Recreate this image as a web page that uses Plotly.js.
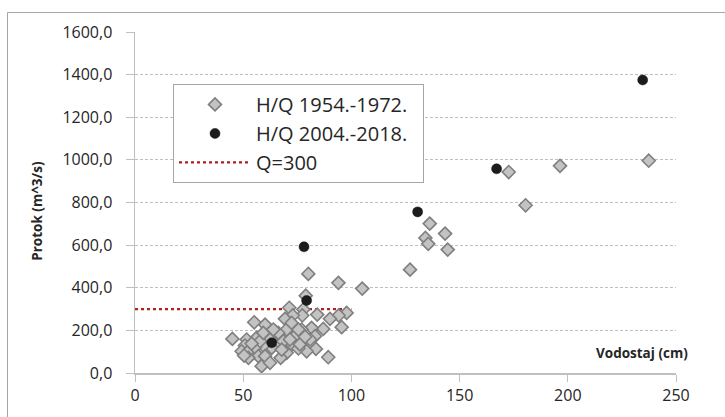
<!DOCTYPE html>
<html>
<head>
<meta charset="utf-8">
<script src="https://cdn.plot.ly/plotly-3.0.1.min.js"></script>
<style>
  html, body { margin: 0; padding: 0; background: #ffffff; }
  #chart { width: 725px; height: 417px; }
</style>
</head>
<body>
<div id="chart"></div>
<script>
// H/Q 1954.-1972. (gray diamonds)
const oldX = [172.7, 196.4, 237.4, 180.5, 136.2, 134.2, 135.5, 143.3, 144.5, 127.1,
  80.1, 94.0, 105.0, 78.9, 77.8, 71.3, 84.2, 97.8, 94.1, 90.1, 77.3, 72.9, 69.3, 95.5, 87.0,
  81.6, 77.0, 71.3, 64.7, 60.1, 55.1, 45.0, 83.2, 77.3, 72.4, 83.6, 79.3, 75.5, 70.1, 67.3,
  89.3, 64.2, 66.2, 63.2, 59.3, 56.2, 51.6, 50.8, 49.3, 53.1, 55.5, 57.0, 60.1, 58.5, 62.4,
  52.4, 50.4, 68.5, 70.1, 73.9, 75.5, 66.2, 62.4, 57.8, 76.2, 80.9, 53.9, 67.8, 71.6, 78.6,
  59.3, 72.4, 63.9];
const oldY = [943, 972, 996, 787, 701, 634, 606, 654, 579, 485,
  465, 423, 396, 363, 298, 306, 274, 282, 270, 254, 270, 270, 254, 215, 207,
  212, 204, 209, 196, 227, 238, 160, 173, 144, 134, 113, 102, 115, 95, 71,
  74, 170, 134, 118, 129, 165, 157, 129, 102, 110, 121, 79, 79, 32, 48,
  71, 82, 149, 204, 173, 204, 188, 157, 149, 134, 157, 138, 110, 157, 170,
  188, 235, 204];

// H/Q 2004.-2018. (black circles)
const newX = [63.2, 78.1, 79.3, 130.6, 167.1, 234.6];
const newY = [142, 592, 340, 756, 958, 1375];

// Q=300 reference line
const qX = [0, 100];
const qY = [300, 300];

const xTicks = [0, 50, 100, 150, 200, 250];
const yTicks = [0, 200, 400, 600, 800, 1000, 1200, 1400, 1600];

const FONT = '"Open Sans", "Liberation Sans", sans-serif';
const W = 725, H = 417, L = 135, R = 49, T = 32, B = 43.5;
const pw = W - L - R, ph = H - T - B;
const px = p => (p - L) / pw;           // pixel x -> paper
const py = p => (H - B - p) / ph;       // pixel y -> paper
const PAD = '\u00a0\u00a0';

const traces = [
  {
    type: 'scatter', mode: 'lines', name: 'Q=300',
    x: qX, y: qY, legendrank: 3,
    line: { color: '#b01e1e', width: 2.2, dash: 'dot' },
    hoverinfo: 'skip'
  },
  {
    type: 'scatter', mode: 'markers', name: 'H/Q 1954.-1972.' + PAD,
    x: oldX, y: oldY, legendrank: 1,
    marker: { symbol: 'diamond', size: 10, color: '#c3c3c3', line: { color: '#7f7f7f', width: 1.6 } }
  },
  {
    type: 'scatter', mode: 'markers', name: 'H/Q 2004.-2018.' + PAD,
    x: newX, y: newY, legendrank: 2,
    marker: { symbol: 'circle', size: 10, color: '#1c1c1c', line: { color: '#111111', width: 0.5 } }
  }
];

const layout = {
  width: W, height: H,
  margin: { l: L, r: R, t: T, b: B, pad: 0 },
  paper_bgcolor: '#ffffff', plot_bgcolor: '#ffffff',
  font: { family: FONT, color: '#262626', size: 16 },
  separators: ',.',
  showlegend: true,
  legend: {
    x: px(173), y: py(84), xanchor: 'left', yanchor: 'top',
    bgcolor: '#ffffff', bordercolor: '#a6a6a6', borderwidth: 1,
    font: { family: FONT, size: 20, color: '#262626' },
    itemwidth: 72, traceorder: 'normal'
  },
  xaxis: {
    range: [0, 250], tickvals: xTicks, ticktext: xTicks.map(String),
    showgrid: false, zeroline: false,
    showline: true, linecolor: '#bfbfbf', linewidth: 1.5,
    ticks: 'outside', ticklen: 7, tickcolor: '#bfbfbf', tickwidth: 1,
    tickfont: { family: FONT, size: 16, color: '#262626' },
    fixedrange: true
  },
  yaxis: {
    range: [0, 1600], tickvals: yTicks, tickformat: '.1f',
    showgrid: true, gridcolor: '#bfbfbf', gridwidth: 1, griddash: '3px,2px',
    zeroline: false,
    showline: true, linecolor: '#bfbfbf', linewidth: 1.5,
    ticks: 'outside', ticklen: 8, tickcolor: '#bfbfbf', tickwidth: 1,
    ticklabelstandoff: 10,
    tickfont: { family: FONT, size: 16, color: '#262626' },
    fixedrange: true
  },
  annotations: [
    {
      xref: 'paper', yref: 'paper', x: px(690), y: py(353),
      xanchor: 'right', yanchor: 'middle', showarrow: false,
      text: '<b>Vodostaj (cm)</b>',
      font: { family: FONT, size: 13.5, color: '#262626' }
    },
    {
      xref: 'paper', yref: 'paper', x: px(37), y: py(211),
      xanchor: 'center', yanchor: 'middle', showarrow: false, textangle: -90,
      text: '<b>Protok (m^3/s)</b>',
      font: { family: FONT, size: 13.5, color: '#262626' }
    }
  ],
  shapes: [
    {
      type: 'rect', xref: 'paper', yref: 'paper',
      x0: px(7.5), x1: px(740), y0: py(430), y1: py(12.5),
      line: { color: '#a6a6a6', width: 1 }, fillcolor: 'rgba(0,0,0,0)', layer: 'below'
    }
  ]
};

Plotly.newPlot('chart', traces, layout, { staticPlot: true, displayModeBar: false });
</script>
</body>
</html>
